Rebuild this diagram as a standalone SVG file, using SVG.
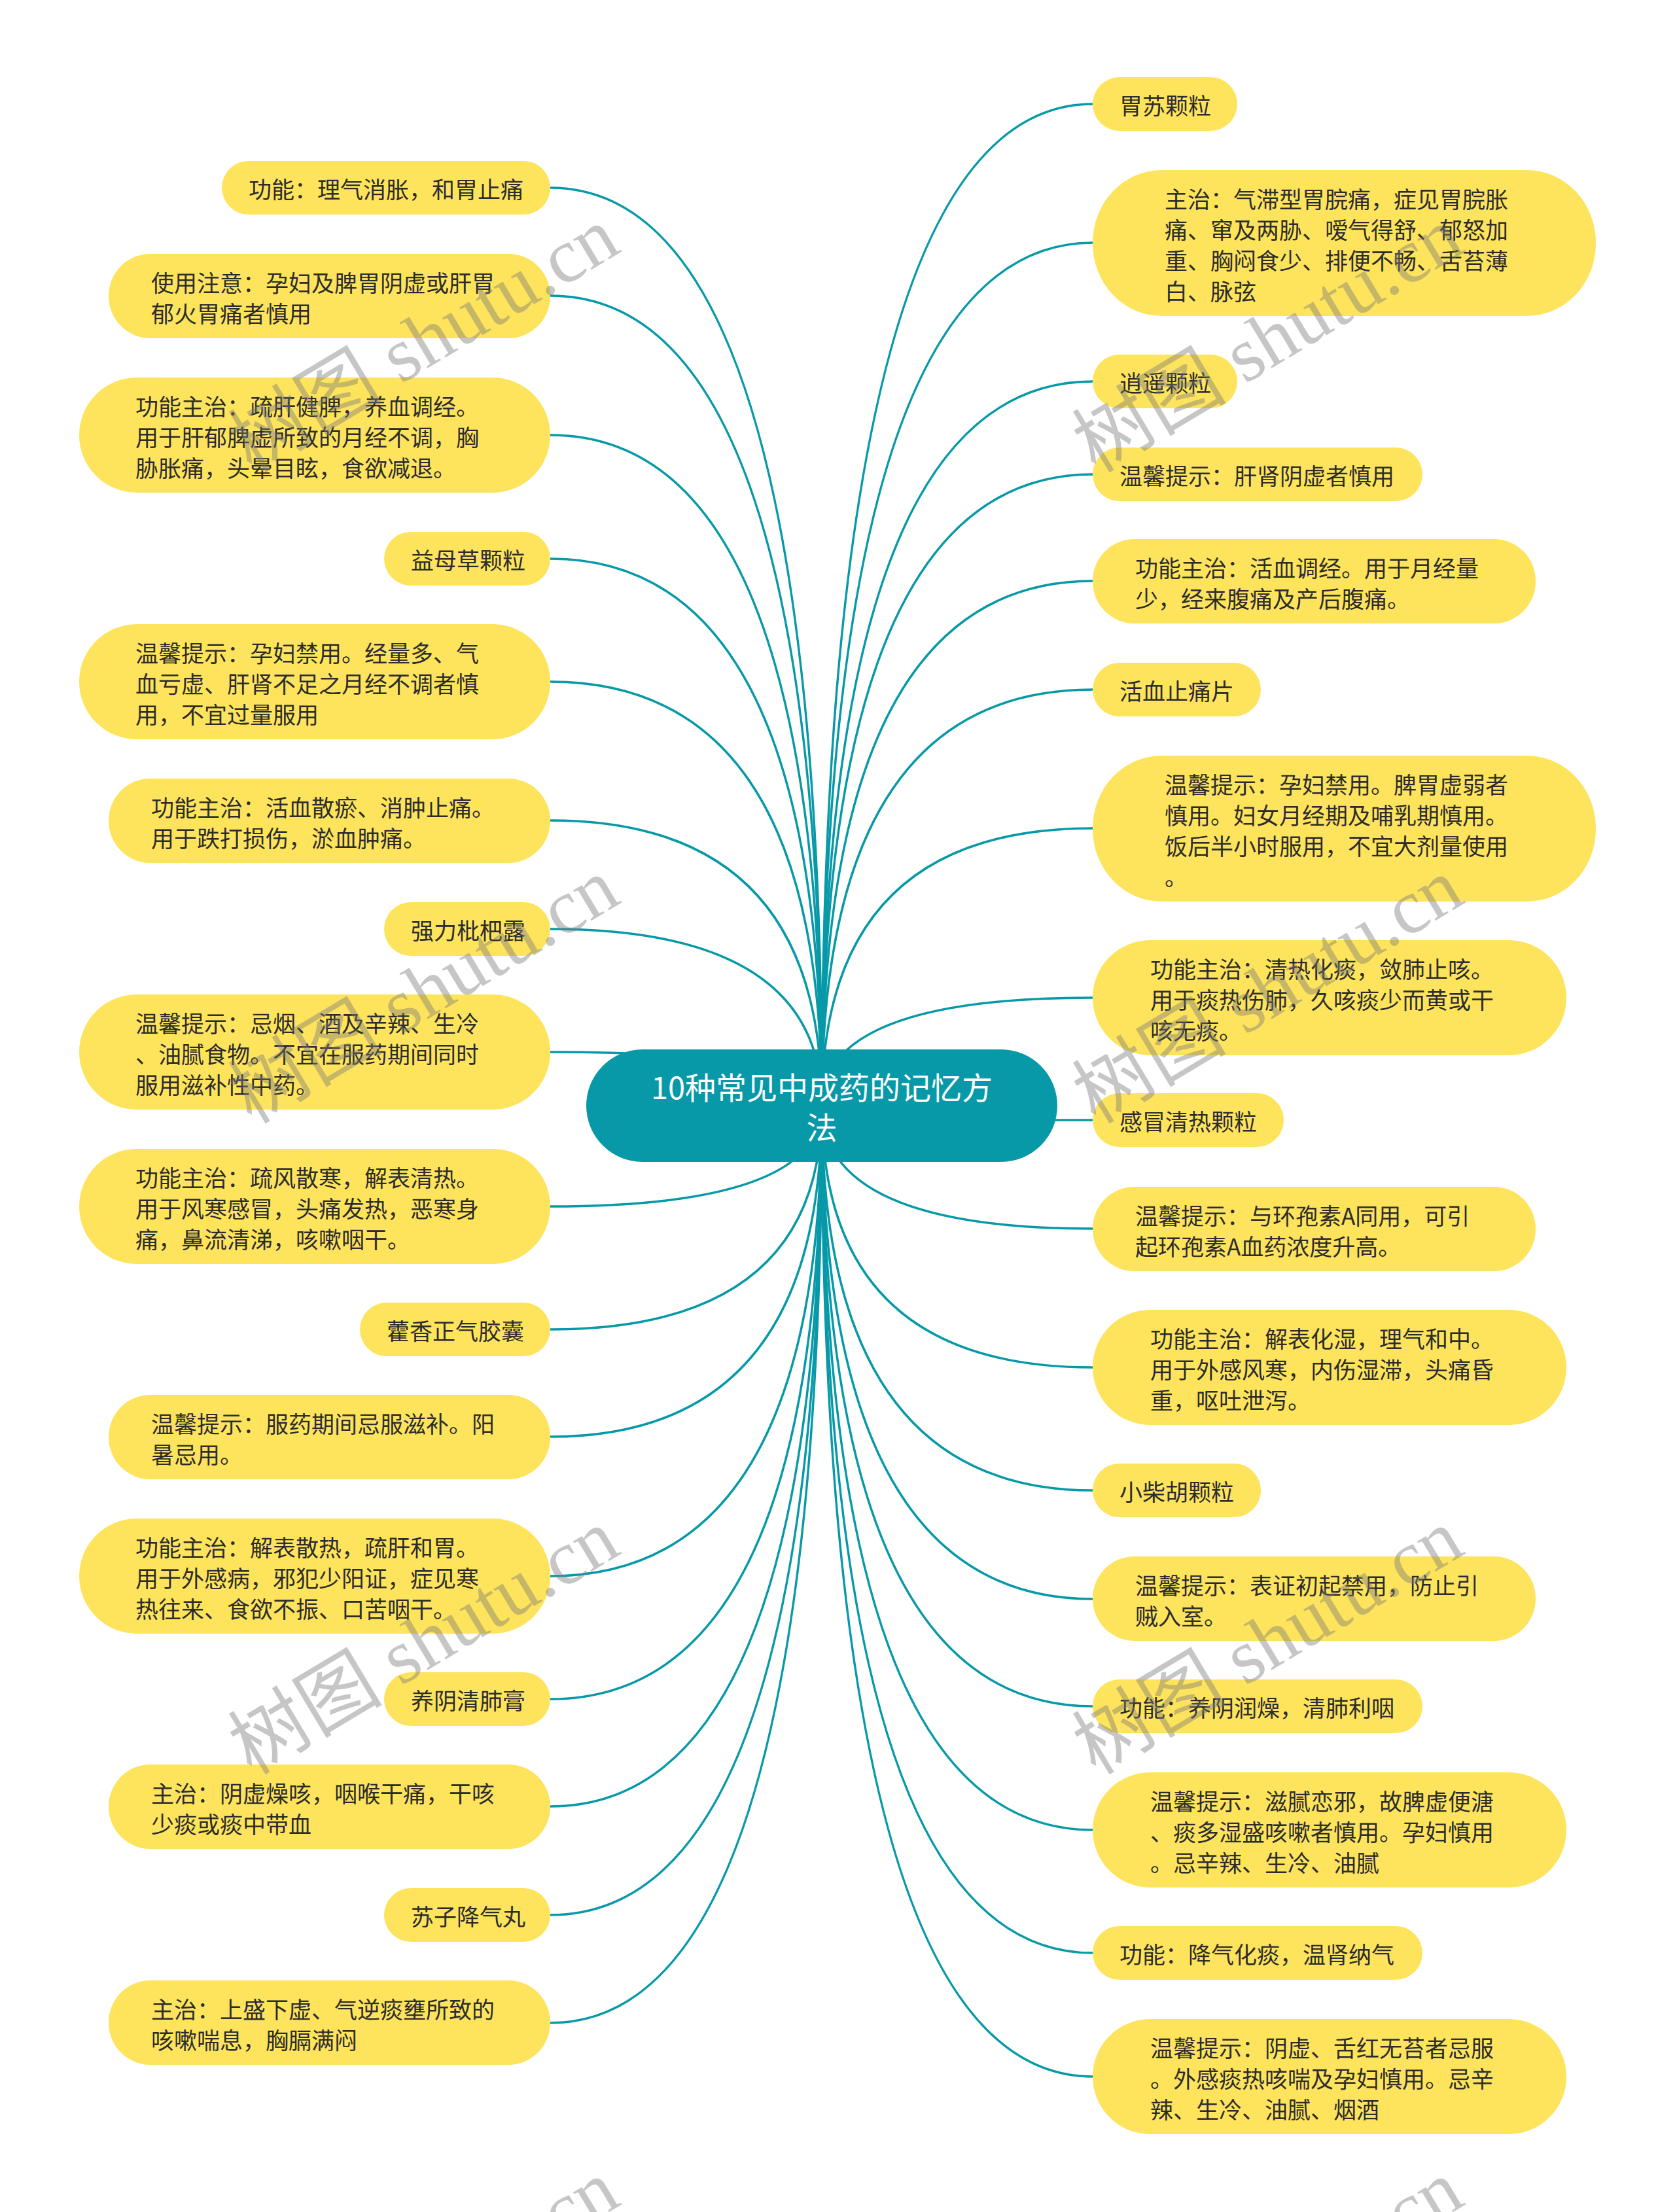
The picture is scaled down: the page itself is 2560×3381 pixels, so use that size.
<svg xmlns="http://www.w3.org/2000/svg" width="2560" height="3381" viewBox="0 0 2560 3381">
<style>
.bg{fill:#ffffff}
.n rect{fill:#FEE45C}
.t{font-family:"Noto Sans CJK SC","Noto Sans",sans-serif;font-size:35px;fill:#2c2c2c;dominant-baseline:central}
.c path{fill:none;stroke:#0799A8;stroke-width:3.5}
.root rect{fill:#0799A8}
.rt{font-family:"Noto Sans CJK SC","Noto Sans",sans-serif;font-size:47px;fill:#ffffff;dominant-baseline:central;text-anchor:middle}
.wm{font-family:"Liberation Serif","Noto Sans CJK SC",serif;font-size:118px;fill:#7a7a7a;opacity:0.42;text-anchor:middle;dominant-baseline:central}
</style>
<rect class="bg" x="0" y="0" width="2560" height="3381"/>
<g id="connectors" class="c">
<path d="M841 287 Q1256 287 1256 1690"/>
<path d="M841 452 Q1256 452 1256 1690"/>
<path d="M841 665 Q1256 665 1256 1690"/>
<path d="M841 854 Q1256 854 1256 1690"/>
<path d="M841 1042 Q1256 1042 1256 1690"/>
<path d="M841 1254 Q1256 1254 1256 1690"/>
<path d="M841 1420 Q1256 1420 1256 1690"/>
<path d="M841 1608 Q1256 1608 1256 1690"/>
<path d="M841 1844 Q1256 1844 1256 1690"/>
<path d="M841 2032 Q1256 2032 1256 1690"/>
<path d="M841 2196 Q1256 2196 1256 1690"/>
<path d="M841 2409 Q1256 2409 1256 1690"/>
<path d="M841 2597 Q1256 2597 1256 1690"/>
<path d="M841 2761 Q1256 2761 1256 1690"/>
<path d="M841 2927 Q1256 2927 1256 1690"/>
<path d="M841 3092 Q1256 3092 1256 1690"/>
<path d="M1670 159 Q1256 159 1256 1690"/>
<path d="M1670 371 Q1256 371 1256 1690"/>
<path d="M1670 583 Q1256 583 1256 1690"/>
<path d="M1670 725 Q1256 725 1256 1690"/>
<path d="M1670 888 Q1256 888 1256 1690"/>
<path d="M1670 1054 Q1256 1054 1256 1690"/>
<path d="M1670 1266 Q1256 1266 1256 1690"/>
<path d="M1670 1525 Q1256 1525 1256 1690"/>
<path d="M1670 1712 Q1256 1712 1256 1690"/>
<path d="M1670 1878 Q1256 1878 1256 1690"/>
<path d="M1670 2090 Q1256 2090 1256 1690"/>
<path d="M1670 2278 Q1256 2278 1256 1690"/>
<path d="M1670 2444 Q1256 2444 1256 1690"/>
<path d="M1670 2608 Q1256 2608 1256 1690"/>
<path d="M1670 2797 Q1256 2797 1256 1690"/>
<path d="M1670 2985 Q1256 2985 1256 1690"/>
<path d="M1670 3174 Q1256 3174 1256 1690"/>
</g>
<g id="root" class="root">
<rect x="896" y="1604" width="720" height="172" rx="86" ry="86"/>
<text class="rt" x="1256" y="1659">10种常见中成药的记忆方</text>
<text class="rt" x="1256" y="1720">法</text>
</g>
<g id="L1" class="n"><rect x="339" y="246" width="502" height="82" rx="41"/><text class="t" x="380" y="287">功能：理气消胀，和胃止痛</text></g>
<g id="L2" class="n"><rect x="166" y="388" width="675" height="129" rx="64"/><text class="t" x="231" y="430">使用注意：孕妇及脾胃阴虚或肝胃</text><text class="t" x="231" y="477">郁火胃痛者慎用</text></g>
<g id="L3" class="n"><rect x="121" y="577" width="720" height="176" rx="88"/><text class="t" x="207" y="619">功能主治：疏肝健脾，养血调经。</text><text class="t" x="207" y="666">用于肝郁脾虚所致的月经不调，胸</text><text class="t" x="207" y="713">胁胀痛，头晕目眩，食欲减退。</text></g>
<g id="L4" class="n"><rect x="587" y="813" width="254" height="82" rx="41"/><text class="t" x="628" y="854">益母草颗粒</text></g>
<g id="L5" class="n"><rect x="121" y="954" width="720" height="176" rx="88"/><text class="t" x="207" y="996">温馨提示：孕妇禁用。经量多、气</text><text class="t" x="207" y="1043">血亏虚、肝肾不足之月经不调者慎</text><text class="t" x="207" y="1090">用，不宜过量服用</text></g>
<g id="L6" class="n"><rect x="166" y="1190" width="675" height="129" rx="64"/><text class="t" x="231" y="1232">功能主治：活血散瘀、消肿止痛。</text><text class="t" x="231" y="1279">用于跌打损伤，淤血肿痛。</text></g>
<g id="L7" class="n"><rect x="587" y="1379" width="254" height="82" rx="41"/><text class="t" x="628" y="1420">强力枇杷露</text></g>
<g id="L8" class="n"><rect x="121" y="1520" width="720" height="176" rx="88"/><text class="t" x="207" y="1562">温馨提示：忌烟、酒及辛辣、生冷</text><text class="t" x="207" y="1609">、油腻食物。不宜在服药期间同时</text><text class="t" x="207" y="1656">服用滋补性中药。</text></g>
<g id="L9" class="n"><rect x="121" y="1756" width="720" height="176" rx="88"/><text class="t" x="207" y="1798">功能主治：疏风散寒，解表清热。</text><text class="t" x="207" y="1845">用于风寒感冒，头痛发热，恶寒身</text><text class="t" x="207" y="1892">痛，鼻流清涕，咳嗽咽干。</text></g>
<g id="L10" class="n"><rect x="550" y="1991" width="291" height="82" rx="41"/><text class="t" x="591" y="2032">藿香正气胶囊</text></g>
<g id="L11" class="n"><rect x="166" y="2132" width="675" height="129" rx="64"/><text class="t" x="231" y="2174">温馨提示：服药期间忌服滋补。阳</text><text class="t" x="231" y="2221">暑忌用。</text></g>
<g id="L12" class="n"><rect x="121" y="2321" width="720" height="176" rx="88"/><text class="t" x="207" y="2363">功能主治：解表散热，疏肝和胃。</text><text class="t" x="207" y="2410">用于外感病，邪犯少阳证，症见寒</text><text class="t" x="207" y="2457">热往来、食欲不振、口苦咽干。</text></g>
<g id="L13" class="n"><rect x="587" y="2556" width="254" height="82" rx="41"/><text class="t" x="628" y="2597">养阴清肺膏</text></g>
<g id="L14" class="n"><rect x="166" y="2697" width="675" height="129" rx="64"/><text class="t" x="231" y="2739">主治：阴虚燥咳，咽喉干痛，干咳</text><text class="t" x="231" y="2786">少痰或痰中带血</text></g>
<g id="L15" class="n"><rect x="587" y="2886" width="254" height="82" rx="41"/><text class="t" x="628" y="2927">苏子降气丸</text></g>
<g id="L16" class="n"><rect x="166" y="3027" width="675" height="129" rx="64"/><text class="t" x="231" y="3069">主治：上盛下虚、气逆痰壅所致的</text><text class="t" x="231" y="3116">咳嗽喘息，胸膈满闷</text></g>
<g id="R1" class="n"><rect x="1670" y="118" width="221" height="82" rx="41"/><text class="t" x="1711" y="159">胃苏颗粒</text></g>
<g id="R2" class="n"><rect x="1670" y="260" width="769" height="223" rx="105" ry="111"/><text class="t" x="1780" y="302">主治：气滞型胃脘痛，症见胃脘胀</text><text class="t" x="1780" y="349">痛、窜及两胁、嗳气得舒、郁怒加</text><text class="t" x="1780" y="396">重、胸闷食少、排便不畅、舌苔薄</text><text class="t" x="1780" y="443">白、脉弦</text></g>
<g id="R3" class="n"><rect x="1670" y="542" width="221" height="82" rx="41"/><text class="t" x="1711" y="583">逍遥颗粒</text></g>
<g id="R4" class="n"><rect x="1670" y="684" width="504" height="82" rx="41"/><text class="t" x="1711" y="725">温馨提示：肝肾阴虚者慎用</text></g>
<g id="R5" class="n"><rect x="1670" y="824" width="677" height="129" rx="64"/><text class="t" x="1735" y="866">功能主治：活血调经。用于月经量</text><text class="t" x="1735" y="913">少，经来腹痛及产后腹痛。</text></g>
<g id="R6" class="n"><rect x="1670" y="1013" width="257" height="82" rx="41"/><text class="t" x="1711" y="1054">活血止痛片</text></g>
<g id="R7" class="n"><rect x="1670" y="1155" width="769" height="223" rx="105" ry="111"/><text class="t" x="1780" y="1197">温馨提示：孕妇禁用。脾胃虚弱者</text><text class="t" x="1780" y="1244">慎用。妇女月经期及哺乳期慎用。</text><text class="t" x="1780" y="1291">饭后半小时服用，不宜大剂量使用</text><text class="t" x="1780" y="1338">。</text></g>
<g id="R8" class="n"><rect x="1670" y="1437" width="724" height="176" rx="88"/><text class="t" x="1758" y="1479">功能主治：清热化痰，敛肺止咳。</text><text class="t" x="1758" y="1526">用于痰热伤肺，久咳痰少而黄或干</text><text class="t" x="1758" y="1573">咳无痰。</text></g>
<g id="R9" class="n"><rect x="1670" y="1671" width="292" height="82" rx="41"/><text class="t" x="1711" y="1712">感冒清热颗粒</text></g>
<g id="R10" class="n"><rect x="1670" y="1814" width="677" height="129" rx="64"/><text class="t" x="1735" y="1856">温馨提示：与环孢素A同用，可引</text><text class="t" x="1735" y="1903">起环孢素A血药浓度升高。</text></g>
<g id="R11" class="n"><rect x="1670" y="2002" width="724" height="176" rx="88"/><text class="t" x="1758" y="2044">功能主治：解表化湿，理气和中。</text><text class="t" x="1758" y="2091">用于外感风寒，内伤湿滞，头痛昏</text><text class="t" x="1758" y="2138">重，呕吐泄泻。</text></g>
<g id="R12" class="n"><rect x="1670" y="2237" width="257" height="82" rx="41"/><text class="t" x="1711" y="2278">小柴胡颗粒</text></g>
<g id="R13" class="n"><rect x="1670" y="2379" width="677" height="129" rx="64"/><text class="t" x="1735" y="2421">温馨提示：表证初起禁用，防止引</text><text class="t" x="1735" y="2468">贼入室。</text></g>
<g id="R14" class="n"><rect x="1670" y="2567" width="504" height="82" rx="41"/><text class="t" x="1711" y="2608">功能：养阴润燥，清肺利咽</text></g>
<g id="R15" class="n"><rect x="1670" y="2709" width="724" height="176" rx="88"/><text class="t" x="1758" y="2751">温馨提示：滋腻恋邪，故脾虚便溏</text><text class="t" x="1758" y="2798">、痰多湿盛咳嗽者慎用。孕妇慎用</text><text class="t" x="1758" y="2845">。忌辛辣、生冷、油腻</text></g>
<g id="R16" class="n"><rect x="1670" y="2944" width="504" height="82" rx="41"/><text class="t" x="1711" y="2985">功能：降气化痰，温肾纳气</text></g>
<g id="R17" class="n"><rect x="1670" y="3086" width="724" height="176" rx="88"/><text class="t" x="1758" y="3128">温馨提示：阴虚、舌红无苔者忌服</text><text class="t" x="1758" y="3175">。外感痰热咳喘及孕妇慎用。忌辛</text><text class="t" x="1758" y="3222">辣、生冷、油腻、烟酒</text></g>
<g id="watermarks">
<text class="wm" transform="translate(648 520) rotate(-31)">树图 shutu.cn</text>
<text class="wm" transform="translate(1938 520) rotate(-31)">树图 shutu.cn</text>
<text class="wm" transform="translate(648 1515) rotate(-31)">树图 shutu.cn</text>
<text class="wm" transform="translate(1938 1515) rotate(-31)">树图 shutu.cn</text>
<text class="wm" transform="translate(648 2510) rotate(-31)">树图 shutu.cn</text>
<text class="wm" transform="translate(1938 2510) rotate(-31)">树图 shutu.cn</text>
<text class="wm" transform="translate(648 3505) rotate(-31)">树图 shutu.cn</text>
<text class="wm" transform="translate(1938 3505) rotate(-31)">树图 shutu.cn</text>
</g>
</svg>
